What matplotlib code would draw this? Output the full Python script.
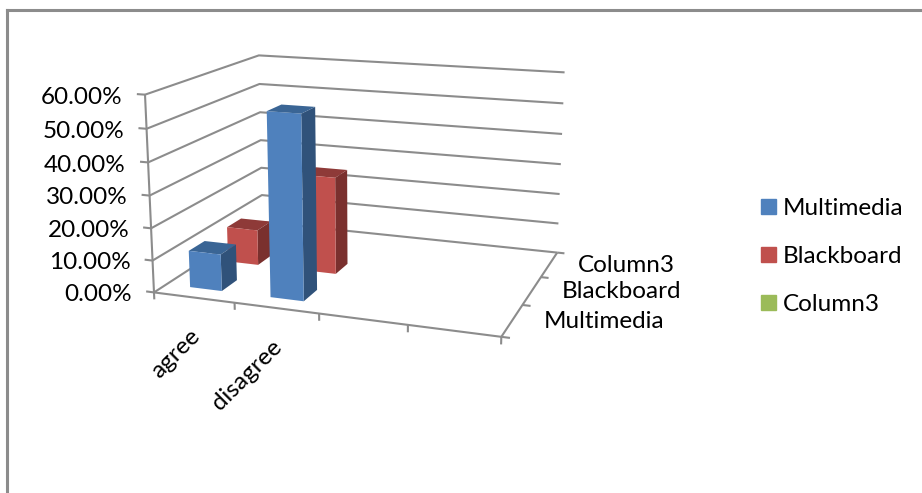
import matplotlib
matplotlib.use("Agg")
import matplotlib.pyplot as plt
from matplotlib.lines import Line2D
from matplotlib.patches import Patch
from mpl_toolkits.mplot3d import proj3d

plt.rcParams['font.family'] = ['Lato', 'DejaVu Sans']

categories = ["agree", "disagree", "", ""]
series_names = ["Multimedia", "Blackboard", "Column3"]
multimedia = [0.115, 0.56]
blackboard = [0.115, 0.31]
z_ticks = [0.0, 0.1, 0.2, 0.3, 0.4, 0.5, 0.6]

W, H = 922, 493
GRID = "#8c8c8c"
BAR_W = 0.4
CLEAR = (0, 0, 0, 0)
# front, top, right side of each column
BLUE = ("#4f81bd", "#3a6595", "#30527a")
RED = ("#c0504d", "#8e3a38", "#7a302e")
GREEN = "#9bbb59"
FONT = 17.5

fig = plt.figure(figsize=(W / 100, H / 100), dpi=100)

# chart frame, only top and left edges are there
fig.add_artist(Line2D([7 / W, 7 / W], [0, 1 - 10 / H], color=GRID, lw=2.2))
fig.add_artist(Line2D([7 / W, 1], [1 - 10 / H, 1 - 10 / H], color=GRID, lw=2.2))

side = 457.4
ax = fig.add_axes([130.54 / W, 79.02 / H, side / W, side / H], projection="3d")
ax.patch.set_alpha(0)
ax.computed_zorder = False
ax.view_init(elev=14.429, azim=-70.445)
ax.set_proj_type("persp", focal_length=0.4963)
ax.set_box_aspect((1.7696, 1.3145, 1.0))

n_x = len(categories)
n_y = len(series_names)
z_top = z_ticks[-1]

ax.set_xlim(0, n_x)
ax.set_ylim(0, n_y)
ax.set_zlim(0, z_top)
proj = ax.get_proj()


def line(xs, ys, zs):
    ax.plot(xs, ys, zs, color=GRID, lw=1.5, zorder=1, solid_capstyle="butt")


def label(x, y, z, s, **kw):
    # 3d text drops rotation, so place it in screen coordinates
    u, v, _ = proj3d.proj_transform(x, y, z, proj)
    ax.text2D(u, v, s, transform=ax.transData, fontsize=FONT, color="black",
              rotation_mode="anchor", **kw)


# walls
for z in z_ticks:
    line([0, 0, n_x], [0, n_y, n_y], [z, z, z])
    line([-0.1, 0], [0, 0], [z, z])
    label(-0.28, 0, z - 0.014, "%.2f%%" % (z * 100), ha="right", va="center")
line([0, 0], [0, 0], [0, z_top])

# floor edges and ticks
line([0, n_x], [0, 0], [0, 0])
line([n_x, n_x], [0, n_y], [0, 0])
for i in range(n_x + 1):
    line([i, i], [0, 0], [0, -0.022])
for j in range(n_y + 1):
    line([n_x, n_x + 0.09], [j, j], [0, 0])

# columns, back row first
for row, values, cols in [(1, blackboard, RED), (0, multimedia, BLUE)]:
    for i, v in enumerate(values):
        faces = [CLEAR, cols[1], cols[0], CLEAR, CLEAR, cols[2]]
        ax.bar3d(i + 0.3, row + 0.3, 0, BAR_W, BAR_W, v, color=faces, shade=False,
                 linewidth=0, zorder=2 + (1 - row))

for i, name in enumerate(categories):
    if name:
        label(i + 0.52, 0, -0.11, name, rotation=45, ha="right", va="center")
for j, name in enumerate(series_names):
    label(n_x + 0.34, j + 0.5, 0.008, name, ha="left", va="center")

ax.set_xlim(0, n_x)
ax.set_ylim(0, n_y)
ax.set_zlim(0, z_top)
ax.set_axis_off()

handles = [Patch(color=BLUE[0]), Patch(color=RED[0]), Patch(color=GREEN)]
fig.legend(handles, series_names, loc="upper left", bbox_to_anchor=(761 / W, 1 - 198 / H),
           frameon=False, fontsize=FONT, borderpad=0, borderaxespad=0, handlelength=0.62,
           handleheight=0.62, handletextpad=0.29, labelspacing=1.11)

fig.savefig("out.png", dpi=100)
